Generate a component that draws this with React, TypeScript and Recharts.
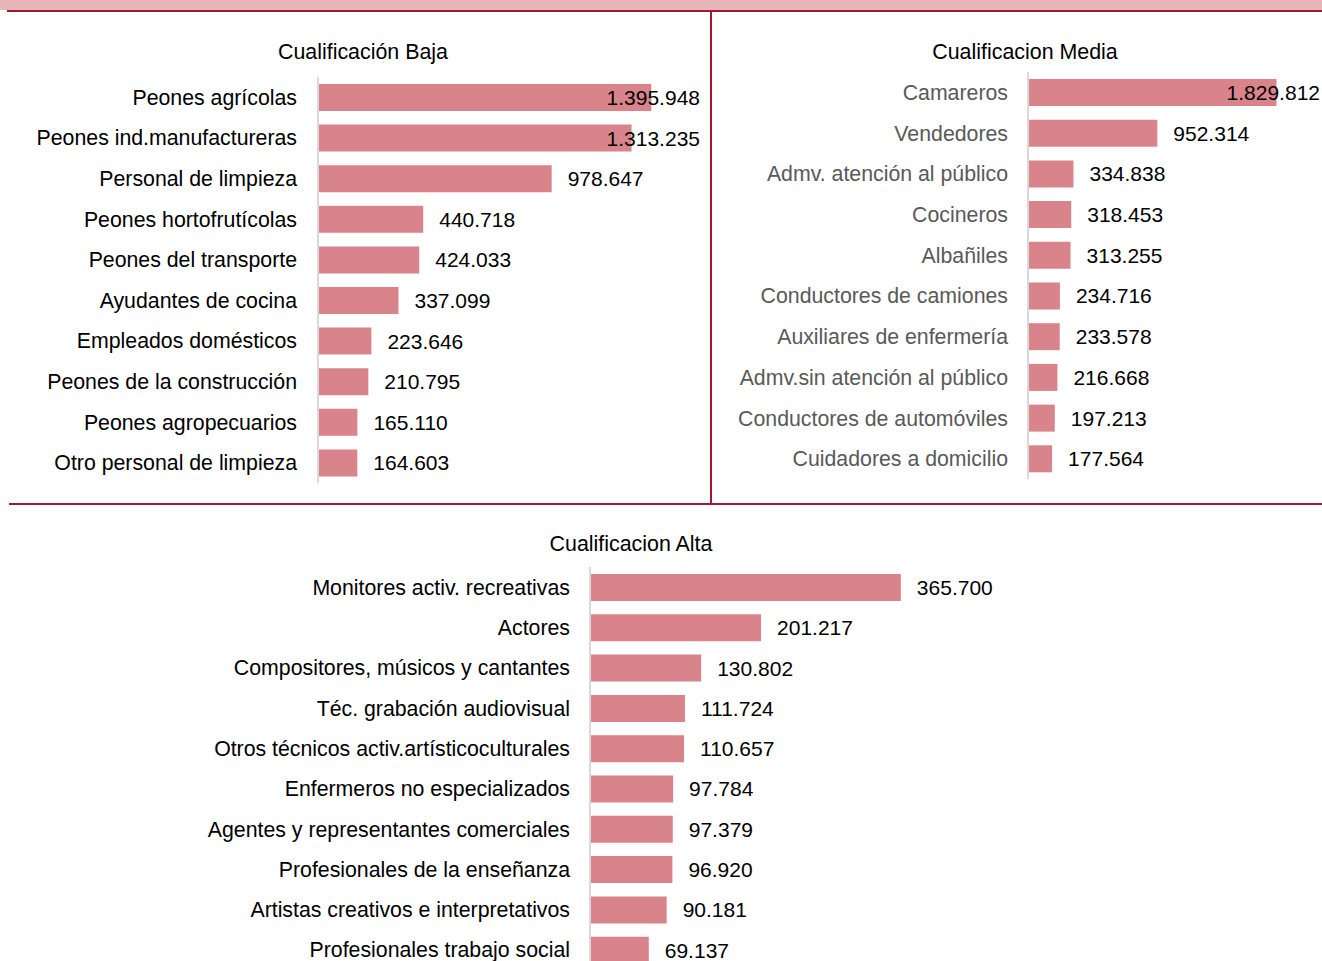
import React from 'react';
import { BarChart, Bar, XAxis, YAxis, LabelList } from 'recharts';

const bajaCategories = [
  'Peones agrícolas',
  'Peones ind.manufactureras',
  'Personal de limpieza',
  'Peones hortofrutícolas',
  'Peones del transporte',
  'Ayudantes de cocina',
  'Empleados domésticos',
  'Peones de la construcción',
  'Peones agropecuarios',
  'Otro personal de limpieza',
];
const bajaValues = [1395948, 1313235, 978647, 440718, 424033, 337099, 223646, 210795, 165110, 164603];

const mediaCategories = [
  'Camareros',
  'Vendedores',
  'Admv. atención al público',
  'Cocineros',
  'Albañiles',
  'Conductores de camiones',
  'Auxiliares de enfermería',
  'Admv.sin atención al público',
  'Conductores de automóviles',
  'Cuidadores a domicilio',
];
const mediaValues = [1829812, 952314, 334838, 318453, 313255, 234716, 233578, 216668, 197213, 177564];

const altaCategories = [
  'Monitores activ. recreativas',
  'Actores',
  'Compositores, músicos y cantantes',
  'Téc. grabación audiovisual',
  'Otros técnicos activ.artísticoculturales',
  'Enfermeros no especializados',
  'Agentes y representantes comerciales',
  'Profesionales de la enseñanza',
  'Artistas creativos e interpretativos',
  'Profesionales trabajo social',
];
const altaValues = [365700, 201217, 130802, 111724, 110657, 97784, 97379, 96920, 90181, 69137];

const titles = ['Cualificación Baja', 'Cualificacion Media', 'Cualificacion Alta'];

const toRows = (cats: string[], vals: number[]) => cats.map((name, i) => ({ name, value: vals[i] }));

const fmt = (v: number) => String(v).replace(/\B(?=(\d{3})+(?!\d))/g, '.');

const FONT = '"Liberation Sans", Arial, sans-serif';
const BAR = '#d9838b';
const RED = '#9e1b2f';
const VAL_FS = 21;
const CAT_FS = 21.3;

const estWidth = (s: string) => {
  let w = 0;
  for (const c of s) w += c === '.' ? 0.278 : 0.556;
  return w * VAL_FS;
};

const makeLabel = (limit: number) => (props: any) => {
  const { x, y, width, height, value } = props;
  const s = fmt(Number(value));
  const start = Number(x) + Number(width) + 16;
  const w = estWidth(s);
  const clamp = start + w > limit;
  return (
    <text
      x={clamp ? limit : start}
      y={Number(y) + Number(height) / 2}
      dy="0.355em"
      textAnchor={clamp ? 'end' : 'start'}
      fontSize={VAL_FS}
      fontFamily={FONT}
      fill="#000"
    >
      {s}
    </text>
  );
};

const makeTick = (color: string) => (props: any) => {
  const { x, y, payload } = props;
  return (
    <text x={x} y={y} dy="0.355em" textAnchor="end" fontSize={CAT_FS} fontFamily={FONT} fill={color}>
      {payload.value}
    </text>
  );
};

type PanelProps = {
  data: { name: string; value: number }[];
  width: number;
  height: number;
  margin: { top: number; right: number; bottom: number; left: number };
  yWidth: number;
  max: number;
  tickColor: string;
  labelLimit: number;
  tickGap: number;
};

const Panel = ({ data, width, height, margin, yWidth, max, tickColor, labelLimit, tickGap }: PanelProps) => (
  <BarChart layout="vertical" width={width} height={height} data={data} margin={margin}>
    <XAxis type="number" hide domain={[0, max]} />
    <YAxis
      type="category"
      dataKey="name"
      width={yWidth}
      interval={0}
      tickLine={false}
      tickSize={0}
      tickMargin={tickGap}
      axisLine={{ stroke: '#d9d9d9', strokeWidth: 2 }}
      tick={makeTick(tickColor)}
    />
    <Bar dataKey="value" fill={BAR} barSize={27} isAnimationActive={false}>
      <LabelList dataKey="value" content={makeLabel(labelLimit)} />
    </Bar>
  </BarChart>
);

const Title = ({ text, cx, top }: { text: string; cx: number; top: number }) => (
  <div
    style={{
      position: 'absolute',
      left: cx - 200,
      top,
      width: 400,
      textAlign: 'center',
      fontFamily: FONT,
      fontSize: 21.4,
      lineHeight: '24px',
      color: '#000',
    }}
  >
    {text}
  </div>
);

export default function App() {
  return (
    <div
      style={{
        position: 'absolute',
        left: 0,
        top: 0,
        width: 1322,
        height: 961,
        overflow: 'hidden',
        background: '#fff',
      }}
    >
      <div style={{ position: 'absolute', left: 0, top: 0, width: 1322, height: 10, background: '#e8b5b9' }} />
      <div style={{ position: 'absolute', left: 7, top: 10, width: 1315, height: 1.5, background: RED }} />
      <div style={{ position: 'absolute', left: 710, top: 11, width: 1.5, height: 492, background: RED }} />
      <div style={{ position: 'absolute', left: 9, top: 503, width: 1313, height: 1.5, background: RED }} />

      <Title text={titles[0]} cx={363} top={40} />
      <Title text={titles[1]} cx={1025} top={40} />
      <Title text={titles[2]} cx={631} top={532} />

      <div style={{ position: 'absolute', left: 0, top: 0 }}>
        <Panel
          data={toRows(bajaCategories, bajaValues)}
          width={710}
          height={500}
          margin={{ top: 77, right: 10, bottom: 17, left: 0 }}
          yWidth={318}
          max={1600000}
          tickColor="#000"
          labelLimit={700}
          tickGap={21}
        />
      </div>
      <div style={{ position: 'absolute', left: 711, top: 0 }}>
        <Panel
          data={toRows(mediaCategories, mediaValues)}
          width={611}
          height={500}
          margin={{ top: 72, right: 2, bottom: 21, left: 0 }}
          yWidth={317}
          max={2150000}
          tickColor="#595959"
          labelLimit={609}
          tickGap={20}
        />
      </div>
      <div style={{ position: 'absolute', left: 0, top: 504 }}>
        <Panel
          data={toRows(altaCategories, altaValues)}
          width={1322}
          height={480}
          margin={{ top: 63, right: 392, bottom: 14, left: 0 }}
          yWidth={590}
          max={400000}
          tickColor="#000"
          labelLimit={1300}
          tickGap={20}
        />
      </div>
    </div>
  );
}
